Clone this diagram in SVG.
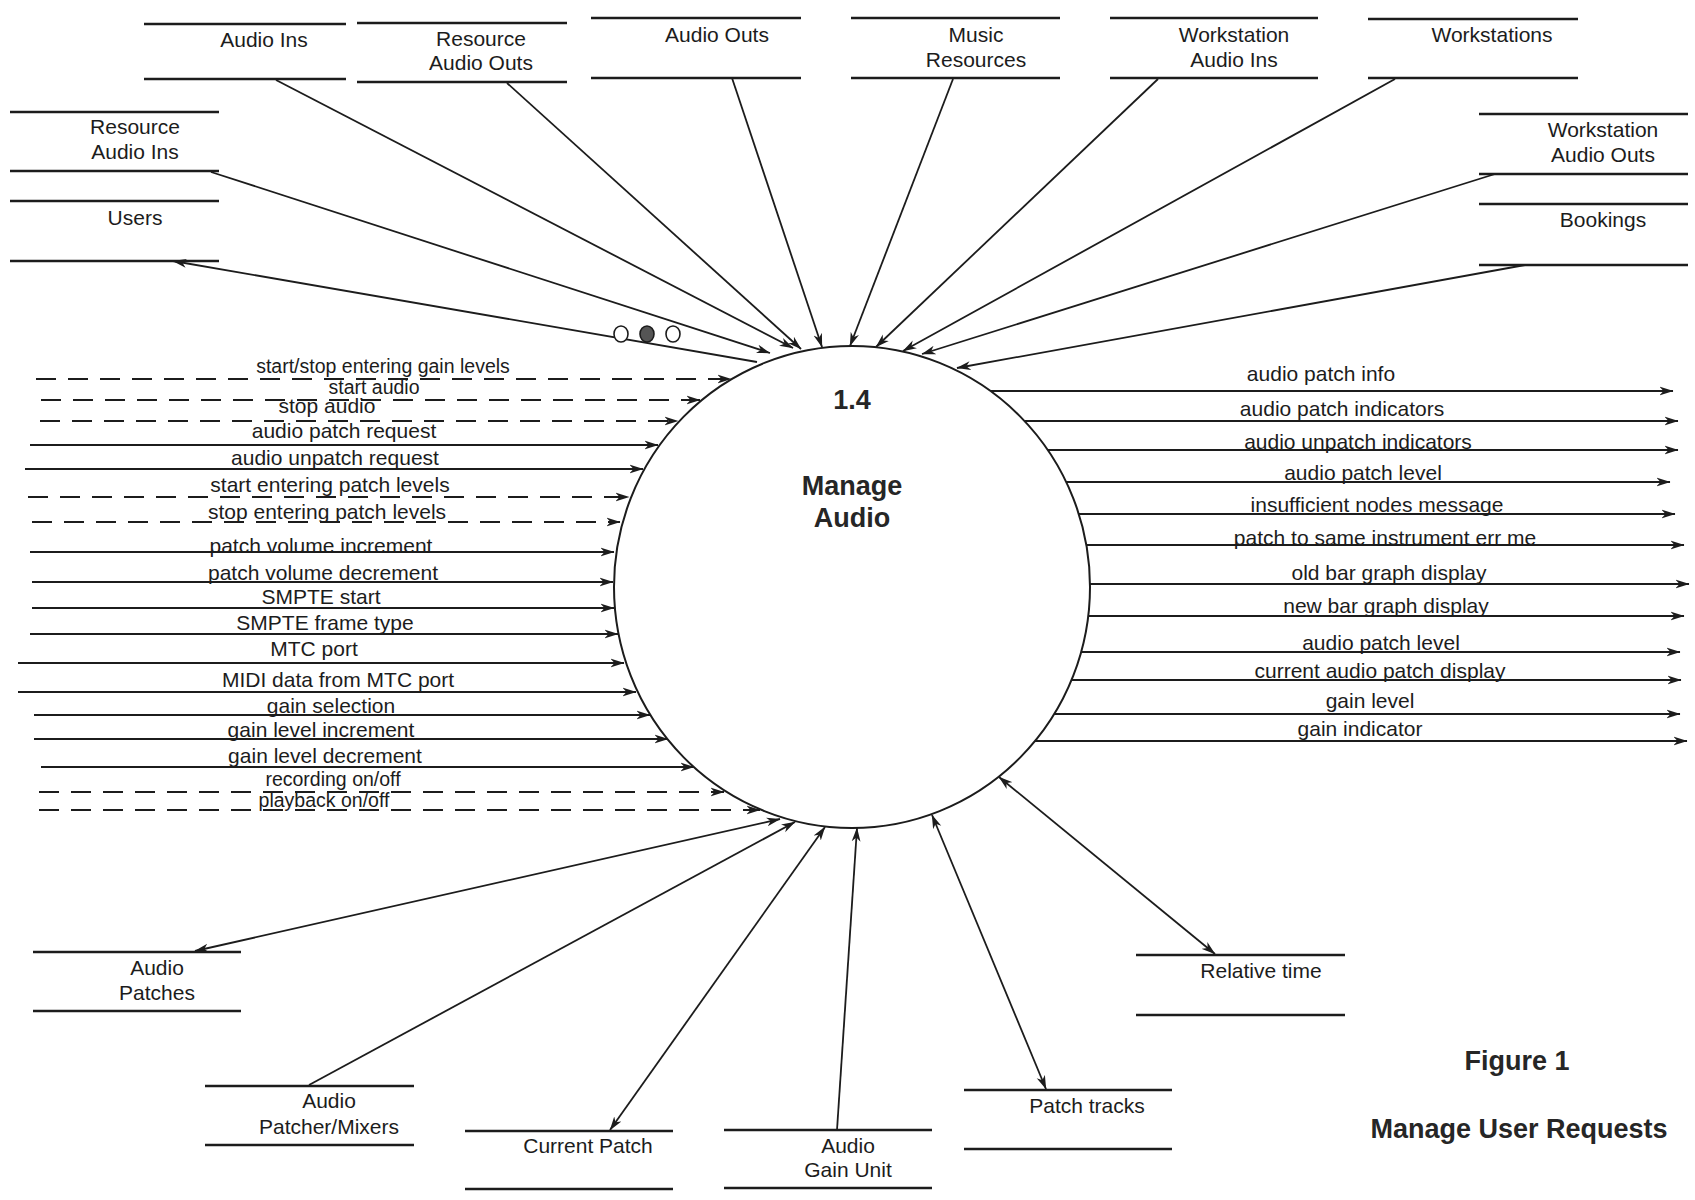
<svg xmlns="http://www.w3.org/2000/svg" width="1695" height="1200" viewBox="0 0 1695 1200">
  <style>
    .bg { fill: #ffffff; }
    .store line { stroke: #1c1c1c; stroke-width: 2.4; }
    .lbl { font-family: "Liberation Sans", Arial, Helvetica, sans-serif; font-size: 21px; fill: #1c1c1c; text-anchor: middle; }
    .tight { font-size: 19.5px; }
    .proc { fill: #ffffff; stroke: #1c1c1c; stroke-width: 2; }
    .ptitle { font-family: "Liberation Sans", Arial, Helvetica, sans-serif; font-size: 27px; font-weight: bold; fill: #262626; text-anchor: middle; }
    .caption { font-family: "Liberation Sans", Arial, Helvetica, sans-serif; font-size: 27px; font-weight: bold; fill: #262626; text-anchor: middle; }
    .flow line { stroke: #1c1c1c; stroke-width: 1.8; fill: none; }
    .flow line.in, .flow line.out, .flow line.to { marker-end: url(#ah); }
    .flow line.both { marker-start: url(#ah); marker-end: url(#ah); }
    .flow line.dash { stroke-dasharray: 20 12; }
    .couple { stroke: #1c1c1c; stroke-width: 1.6; fill: #ffffff; }
    .couple.on { fill: #555555; }
  </style>
  <defs>
    <marker id="ah" viewBox="0 0 14 10" refX="13.5" refY="5" markerWidth="14" markerHeight="10" markerUnits="userSpaceOnUse" orient="auto-start-reverse">
      <path d="M0,0.6 L14,5 L0,9.4 L4,5 Z" fill="#1c1c1c"/>
    </marker>
  </defs>

  <rect class="bg" x="0" y="0" width="1695" height="1200"/>

  <!-- data flows -->
  <g id="connectors" class="flow">
    <!-- stores feeding the process from above -->
    <line class="in" x1="211" y1="172" x2="770" y2="353"/>
    <line class="in" x1="276" y1="80" x2="793" y2="348"/>
    <line class="in" x1="507" y1="83" x2="801" y2="349"/>
    <line class="in" x1="732" y1="78" x2="822" y2="347"/>
    <line class="in" x1="953" y1="79" x2="850" y2="346"/>
    <line class="in" x1="1158" y1="79" x2="876" y2="347"/>
    <line class="in" x1="1395" y1="79" x2="903" y2="351"/>
    <line class="in" x1="1495" y1="174" x2="922" y2="354"/>
    <line class="in" x1="1525" y1="265" x2="957" y2="368"/>
    <!-- process to Users -->
    <line class="to" x1="757" y1="362" x2="173" y2="261"/>

    <!-- user requests entering from the left -->
    <line class="in dash" x1="36" y1="379" x2="731" y2="379"/>
    <line class="in dash" x1="41" y1="400" x2="700" y2="400"/>
    <line class="in dash" x1="40" y1="421" x2="678" y2="421"/>
    <line class="in" x1="30" y1="445" x2="658" y2="445"/>
    <line class="in" x1="25" y1="469" x2="643" y2="469"/>
    <line class="in dash" x1="28" y1="497" x2="629" y2="497"/>
    <line class="in dash" x1="32" y1="522" x2="620" y2="522"/>
    <line class="in" x1="30" y1="552" x2="614" y2="552"/>
    <line class="in" x1="32" y1="582" x2="613" y2="582"/>
    <line class="in" x1="32" y1="608" x2="614" y2="608"/>
    <line class="in" x1="30" y1="634" x2="618" y2="634"/>
    <line class="in" x1="18" y1="663" x2="624" y2="663"/>
    <line class="in" x1="18" y1="692" x2="636" y2="692"/>
    <line class="in" x1="34" y1="715" x2="650" y2="715"/>
    <line class="in" x1="34" y1="739" x2="668" y2="739"/>
    <line class="in" x1="41" y1="767" x2="694" y2="767"/>
    <line class="in dash" x1="39" y1="792" x2="724" y2="792"/>
    <line class="in dash" x1="39" y1="810" x2="760" y2="810"/>

    <!-- outputs leaving to the right -->
    <line class="out" x1="990" y1="391" x2="1673" y2="391"/>
    <line class="out" x1="1025" y1="421" x2="1678" y2="421"/>
    <line class="out" x1="1048" y1="450" x2="1678" y2="450"/>
    <line class="out" x1="1066" y1="482" x2="1670" y2="482"/>
    <line class="out" x1="1079" y1="514" x2="1675" y2="514"/>
    <line class="out" x1="1086" y1="545" x2="1684" y2="545"/>
    <line class="out" x1="1090" y1="584" x2="1689" y2="584"/>
    <line class="out" x1="1088" y1="616" x2="1684" y2="616"/>
    <line class="out" x1="1081" y1="652" x2="1680" y2="652"/>
    <line class="out" x1="1072" y1="680" x2="1681" y2="680"/>
    <line class="out" x1="1054" y1="714" x2="1680" y2="714"/>
    <line class="out" x1="1035" y1="741" x2="1687" y2="741"/>

    <!-- stores below the process -->
    <line class="both" x1="195" y1="951" x2="780" y2="819"/>
    <line class="in" x1="309" y1="1085" x2="795" y2="822"/>
    <line class="both" x1="610" y1="1130" x2="825" y2="827"/>
    <line class="in" x1="837" y1="1130" x2="857" y2="828"/>
    <line class="both" x1="1046" y1="1089" x2="932" y2="815"/>
    <line class="both" x1="1215" y1="954" x2="999" y2="777"/>
  </g>

  <!-- data couple on the Users flow -->
  <g id="couple">
    <ellipse class="couple" cx="621" cy="334" rx="7" ry="8"/>
    <ellipse class="couple on" cx="647" cy="334" rx="7" ry="8"/>
    <ellipse class="couple" cx="673" cy="334" rx="7" ry="8"/>
  </g>

  <!-- flow labels, left -->
  <g id="labels-in" class="lbl">
    <text class="tight" x="383" y="373">start/stop entering gain levels</text>
    <text class="tight" x="374" y="394">start audio</text>
    <text x="327" y="413">stop audio</text>
    <text x="344" y="438">audio patch request</text>
    <text x="335" y="465">audio unpatch request</text>
    <text x="330" y="492">start entering patch levels</text>
    <text x="327" y="519">stop entering patch levels</text>
    <text x="321" y="553">patch volume increment</text>
    <text x="323" y="580">patch volume decrement</text>
    <text x="321" y="604">SMPTE start</text>
    <text x="325" y="630">SMPTE frame type</text>
    <text x="314" y="656">MTC port</text>
    <text x="338" y="687">MIDI data from MTC port</text>
    <text x="331" y="713">gain selection</text>
    <text x="321" y="737">gain level increment</text>
    <text x="325" y="763">gain level decrement</text>
    <text class="tight" x="333" y="786">recording on/off</text>
    <text class="tight" x="324" y="807">playback on/off</text>
  </g>

  <!-- flow labels, right -->
  <g id="labels-out" class="lbl">
    <text x="1321" y="381">audio patch info</text>
    <text x="1342" y="416">audio patch indicators</text>
    <text x="1358" y="449">audio unpatch indicators</text>
    <text x="1363" y="480">audio patch level</text>
    <text x="1377" y="512">insufficient nodes message</text>
    <text x="1385" y="545">patch to same instrument err me</text>
    <text x="1389" y="580">old bar graph display</text>
    <text x="1386" y="613">new bar graph display</text>
    <text x="1381" y="650">audio patch level</text>
    <text x="1380" y="678">current audio patch display</text>
    <text x="1370" y="708">gain level</text>
    <text x="1360" y="736">gain indicator</text>
  </g>

  <!-- process 1.4 -->
  <g id="process-1-4">
    <ellipse class="proc" cx="852" cy="587" rx="238" ry="241"/>
    <text class="ptitle" x="852" y="409">1.4</text>
    <text class="ptitle" x="852" y="495">Manage</text>
    <text class="ptitle" x="852" y="527">Audio</text>
  </g>

  <!-- data stores -->
  <g id="store-audio-ins" class="store">
    <line x1="144" y1="24" x2="346" y2="24"/><line x1="144" y1="79" x2="346" y2="79"/>
    <text class="lbl" x="264" y="47">Audio Ins</text>
  </g>
  <g id="store-resource-audio-outs" class="store">
    <line x1="357" y1="23" x2="567" y2="23"/><line x1="357" y1="82" x2="567" y2="82"/>
    <text class="lbl" x="481" y="46">Resource</text>
    <text class="lbl" x="481" y="70">Audio Outs</text>
  </g>
  <g id="store-audio-outs" class="store">
    <line x1="591" y1="18" x2="801" y2="18"/><line x1="591" y1="78" x2="801" y2="78"/>
    <text class="lbl" x="717" y="42">Audio Outs</text>
  </g>
  <g id="store-music-resources" class="store">
    <line x1="851" y1="18" x2="1060" y2="18"/><line x1="851" y1="78" x2="1060" y2="78"/>
    <text class="lbl" x="976" y="42">Music</text>
    <text class="lbl" x="976" y="67">Resources</text>
  </g>
  <g id="store-workstation-audio-ins" class="store">
    <line x1="1110" y1="18" x2="1318" y2="18"/><line x1="1110" y1="78" x2="1318" y2="78"/>
    <text class="lbl" x="1234" y="42">Workstation</text>
    <text class="lbl" x="1234" y="67">Audio Ins</text>
  </g>
  <g id="store-workstations" class="store">
    <line x1="1368" y1="19" x2="1578" y2="19"/><line x1="1368" y1="78" x2="1578" y2="78"/>
    <text class="lbl" x="1492" y="42">Workstations</text>
  </g>
  <g id="store-resource-audio-ins" class="store">
    <line x1="10" y1="112" x2="219" y2="112"/><line x1="10" y1="171" x2="219" y2="171"/>
    <text class="lbl" x="135" y="134">Resource</text>
    <text class="lbl" x="135" y="159">Audio Ins</text>
  </g>
  <g id="store-users" class="store">
    <line x1="10" y1="201" x2="219" y2="201"/><line x1="10" y1="261" x2="219" y2="261"/>
    <text class="lbl" x="135" y="225">Users</text>
  </g>
  <g id="store-workstation-audio-outs" class="store">
    <line x1="1479" y1="114" x2="1688" y2="114"/><line x1="1479" y1="174" x2="1688" y2="174"/>
    <text class="lbl" x="1603" y="137">Workstation</text>
    <text class="lbl" x="1603" y="162">Audio Outs</text>
  </g>
  <g id="store-bookings" class="store">
    <line x1="1479" y1="204" x2="1688" y2="204"/><line x1="1479" y1="265" x2="1688" y2="265"/>
    <text class="lbl" x="1603" y="227">Bookings</text>
  </g>
  <g id="store-audio-patches" class="store">
    <line x1="33" y1="952" x2="241" y2="952"/><line x1="33" y1="1011" x2="241" y2="1011"/>
    <text class="lbl" x="157" y="975">Audio</text>
    <text class="lbl" x="157" y="1000">Patches</text>
  </g>
  <g id="store-audio-patcher-mixers" class="store">
    <line x1="205" y1="1086" x2="414" y2="1086"/><line x1="205" y1="1145" x2="414" y2="1145"/>
    <text class="lbl" x="329" y="1108">Audio</text>
    <text class="lbl" x="329" y="1134">Patcher/Mixers</text>
  </g>
  <g id="store-current-patch" class="store">
    <line x1="465" y1="1131" x2="673" y2="1131"/><line x1="465" y1="1189" x2="673" y2="1189"/>
    <text class="lbl" x="588" y="1153">Current Patch</text>
  </g>
  <g id="store-audio-gain-unit" class="store">
    <line x1="724" y1="1130" x2="932" y2="1130"/><line x1="724" y1="1188" x2="932" y2="1188"/>
    <text class="lbl" x="848" y="1153">Audio</text>
    <text class="lbl" x="848" y="1177">Gain Unit</text>
  </g>
  <g id="store-patch-tracks" class="store">
    <line x1="964" y1="1090" x2="1172" y2="1090"/><line x1="964" y1="1149" x2="1172" y2="1149"/>
    <text class="lbl" x="1087" y="1113">Patch tracks</text>
  </g>
  <g id="store-relative-time" class="store">
    <line x1="1136" y1="955" x2="1345" y2="955"/><line x1="1136" y1="1015" x2="1345" y2="1015"/>
    <text class="lbl" x="1261" y="978">Relative time</text>
  </g>

  <!-- figure caption -->
  <g id="caption">
    <text class="caption" x="1517" y="1070">Figure 1</text>
    <text class="caption" x="1519" y="1138">Manage User Requests</text>
  </g>
</svg>
